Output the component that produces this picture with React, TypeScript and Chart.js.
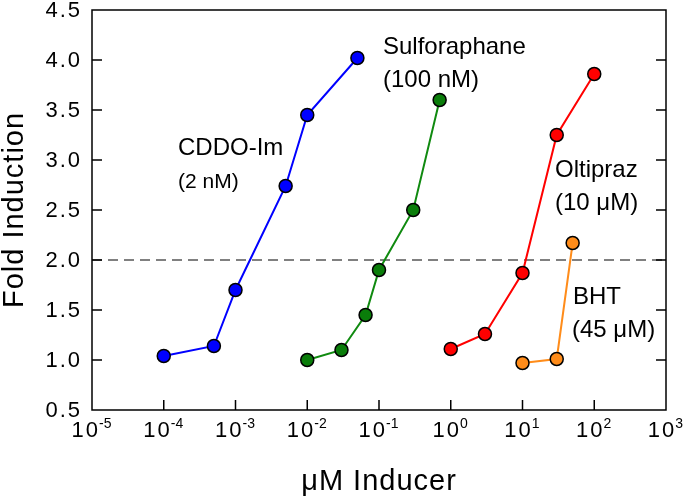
import React, { useEffect, useRef } from "react";
import { Chart, registerables } from "chart.js";

Chart.register(...registerables);

// ---- data ----
const cddoX = [1e-4, 5e-4, 1e-3, 5e-3, 1e-2, 5e-2];
const cddoY = [1.04, 1.14, 1.7, 2.74, 3.45, 4.02];
const sulfX = [0.01, 0.03, 0.065, 0.1, 0.3, 0.7];
const sulfY = [1.0, 1.1, 1.45, 1.9, 2.5, 3.6];
const oltX = [1, 3, 10, 30, 100];
const oltY = [1.11, 1.26, 1.87, 3.25, 3.86];
const bhtX = [10, 30, 50];
const bhtY = [0.97, 1.01, 2.17];
const xTickExps = [-5, -4, -3, -2, -1, 0, 1, 2, 3];
const yTicks = [0.5, 1.0, 1.5, 2.0, 2.5, 3.0, 3.5, 4.0, 4.5];
const thresholdY = 2.0;
const xMin = 1e-5;
const xMax = 1e3;
const yMin = 0.5;
const yMax = 4.5;
const xTitle = "\u03bcM Inducer";
const yTitle = "Fold Induction";
const annotations = [
  { text: "CDDO-Im", size: 24, x: 178, y: 148 },
  { text: "(2 nM)", size: 21, x: 178, y: 182 },
  { text: "Sulforaphane", size: 24, x: 383, y: 47 },
  { text: "(100 nM)", size: 24, x: 383, y: 80 },
  { text: "Oltipraz", size: 24, x: 555, y: 170 },
  { text: "(10 \u03bcM)", size: 24, x: 555, y: 203 },
  { text: "BHT", size: 24, x: 573, y: 297 },
  { text: "(45 \u03bcM)", size: 24, x: 572, y: 330 },
];

const FONT = '"Liberation Sans", Arial, Helvetica, sans-serif';

const pts = (xs: number[], ys: number[]) => xs.map((x, i) => ({ x, y: ys[i] }));

const series = (label: string, xs: number[], ys: number[], line: string, fill: string) => ({
  label,
  data: pts(xs, ys),
  borderColor: line,
  borderWidth: 2,
  pointBackgroundColor: fill,
  pointBorderColor: "#000000",
  pointBorderWidth: 1.5,
  pointRadius: 6.5,
  showLine: true,
  tension: 0,
  order: 1,
});

const framePlugin = {
  id: "frameAndText",
  afterDraw(chart: any) {
    const { ctx, chartArea, scales } = chart;
    const { left, right, top, bottom } = chartArea;
    const xs = scales.x;
    const ys = scales.y;
    ctx.save();
    // frame
    ctx.strokeStyle = "#000";
    ctx.lineWidth = 1.5;
    ctx.beginPath();
    ctx.rect(left, top, right - left, bottom - top);
    ctx.stroke();
    // ticks inward
    const tl = 10;
    ctx.beginPath();
    yTicks.forEach((v) => {
      const py = ys.getPixelForValue(v);
      if (v === yMin || v === yMax) return;
      ctx.moveTo(left, py);
      ctx.lineTo(left + tl, py);
      ctx.moveTo(right, py);
      ctx.lineTo(right - tl, py);
    });
    xTickExps.forEach((e) => {
      const px = xs.getPixelForValue(Math.pow(10, e));
      if (e === xTickExps[0] || e === xTickExps[xTickExps.length - 1]) return;
      ctx.moveTo(px, bottom);
      ctx.lineTo(px, bottom - tl);
    });
    ctx.stroke();

    ctx.fillStyle = "#000";
    // y tick labels
    ctx.font = `22px ${FONT}`;
    (ctx as any).letterSpacing = "2px";
    ctx.textAlign = "right";
    ctx.textBaseline = "middle";
    yTicks.forEach((v) => {
      const py = ys.getPixelForValue(v);
      ctx.fillText(v.toFixed(1), left - 10, py + 1);
    });
    // x tick labels: 10^e
    xTickExps.forEach((e) => {
      const px = xs.getPixelForValue(Math.pow(10, e));
      ctx.font = `22px ${FONT}`;
      (ctx as any).letterSpacing = "2px";
      const base = "10";
      const wb = ctx.measureText(base).width;
      ctx.font = `14px ${FONT}`;
      (ctx as any).letterSpacing = "0px";
      const ex = String(e);
      const we = ctx.measureText(ex).width;
      const start = px - (wb + we) / 2;
      ctx.textAlign = "left";
      ctx.textBaseline = "alphabetic";
      ctx.font = `22px ${FONT}`;
      (ctx as any).letterSpacing = "2px";
      ctx.fillText(base, start, bottom + 27);
      ctx.font = `14px ${FONT}`;
      (ctx as any).letterSpacing = "0px";
      ctx.fillText(ex, start + wb - 1, bottom + 18);
    });
    // axis titles
    ctx.font = `29px ${FONT}`;
    (ctx as any).letterSpacing = "1px";
    ctx.textAlign = "center";
    ctx.textBaseline = "middle";
    ctx.fillText(xTitle, (left + right) / 2, bottom + 72);
    ctx.save();
    ctx.translate(15, (top + bottom) / 2);
    ctx.rotate(-Math.PI / 2);
    ctx.fillText(yTitle, 0, 0);
    ctx.restore();
    // annotations
    ctx.textAlign = "left";
    ctx.textBaseline = "middle";
    (ctx as any).letterSpacing = "0px";
    annotations.forEach((a) => {
      ctx.font = `${a.size}px ${FONT}`;
      ctx.fillText(a.text, a.x, a.y);
    });
    ctx.restore();
  },
};

export default function App() {
  const ref = useRef<HTMLCanvasElement | null>(null);
  useEffect(() => {
    document.body.style.margin = "0";
    const canvas = ref.current;
    if (!canvas) return;
    const chart = new Chart(canvas, {
      type: "scatter",
      data: {
        datasets: [
          {
            label: "threshold",
            data: [
              { x: xMin, y: thresholdY },
              { x: xMax, y: thresholdY },
            ],
            borderColor: "#808080",
            borderWidth: 2,
            borderDash: [10, 6],
            pointRadius: 0,
            showLine: true,
            order: 2,
          } as any,
          series("CDDO-Im", cddoX, cddoY, "#0000ff", "#0000ff"),
          series("Sulforaphane", sulfX, sulfY, "#108a10", "#0a7d0a"),
          series("Oltipraz", oltX, oltY, "#ff0000", "#ff0000"),
          series("BHT", bhtX, bhtY, "#ff8c1a", "#ff8c1a"),
        ],
      },
      options: {
        animation: false,
        responsive: false,
        devicePixelRatio: 1,
        layout: { padding: { left: 92, right: 19, top: 10, bottom: 89 } },
        plugins: { legend: { display: false }, tooltip: { enabled: false } },
        scales: {
          x: { type: "logarithmic", min: xMin, max: xMax, display: false },
          y: { type: "linear", min: yMin, max: yMax, display: false },
        },
      },
      plugins: [framePlugin],
    });
    return () => chart.destroy();
  }, []);
  return (
    <div style={{ position: "absolute", left: 0, top: 0, width: 685, height: 499 }}>
      <canvas ref={ref} width={685} height={499} />
    </div>
  );
}
